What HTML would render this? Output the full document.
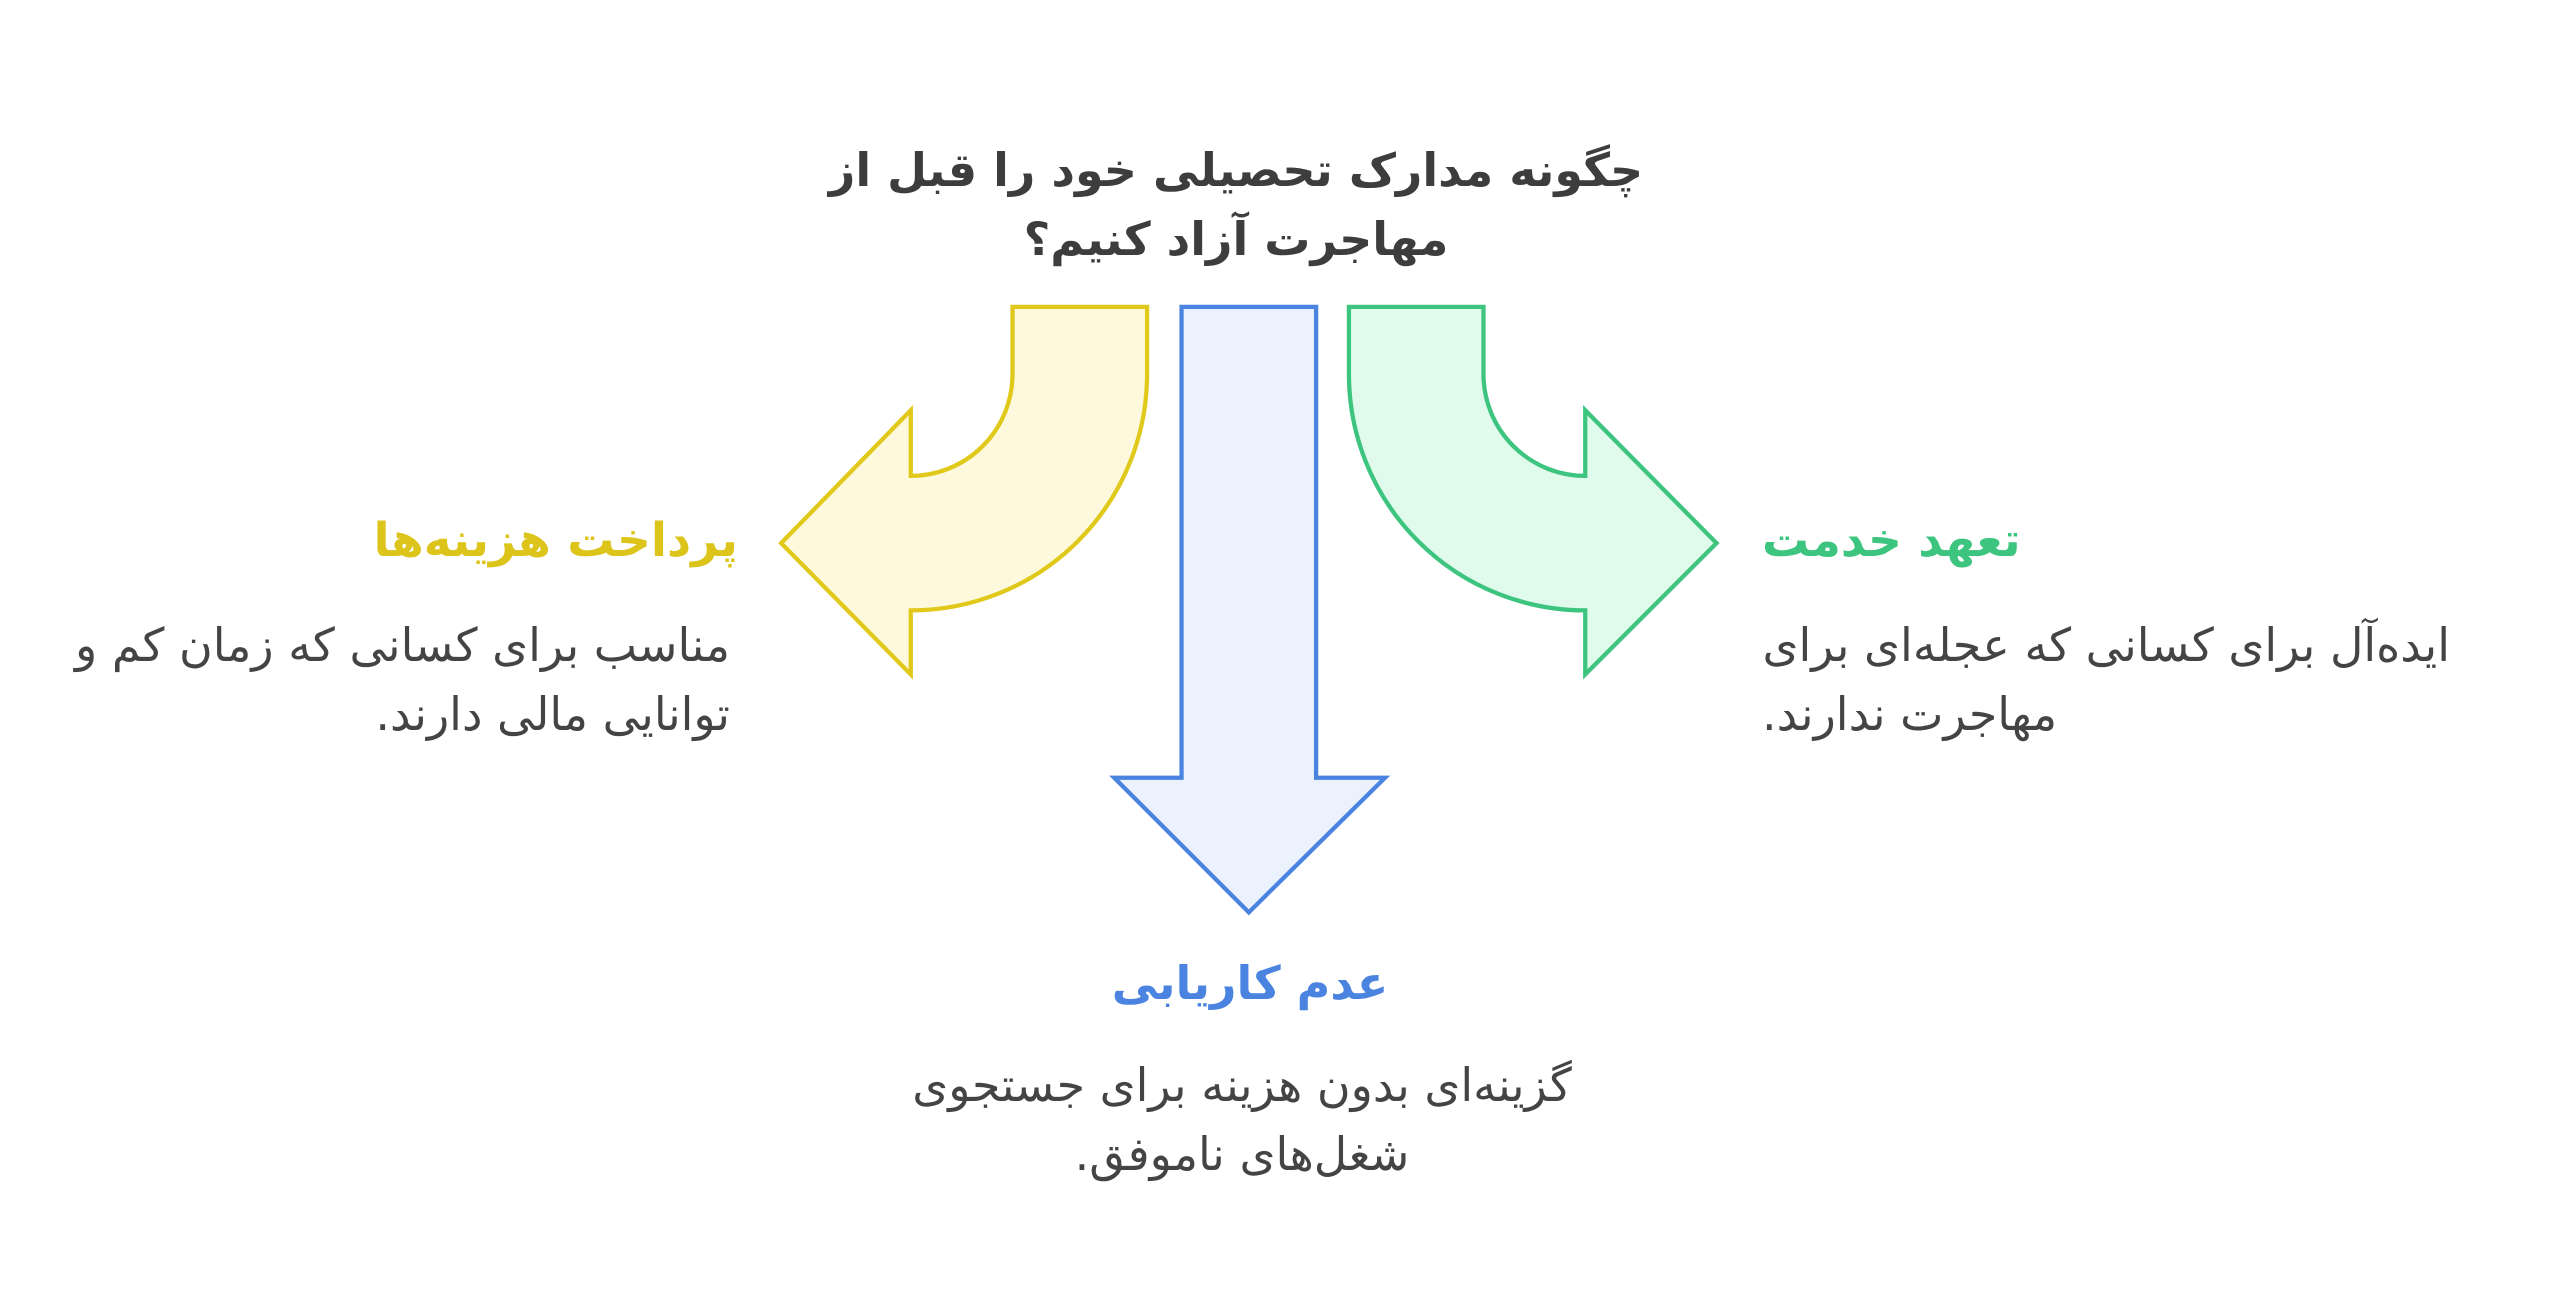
<!DOCTYPE html>
<html><head><meta charset="utf-8"><style>
html,body{margin:0;padding:0;background:#fff;}
body{width:2560px;height:1316px;position:relative;overflow:hidden;font-family:"DejaVu Sans","Liberation Sans",sans-serif;}
.t{position:absolute;white-space:nowrap;direction:rtl;line-height:1;}
.b{font-weight:bold;}
</style></head><body>
<svg width="2560" height="1316" viewBox="0 0 1560 802" preserveAspectRatio="none" style="position:absolute;left:0;top:0">
<path d="M617,187 L699,187 L699,228 A144,144 0 0 1 555,372 L555,411 L476,331 L555,250 L555,290 A62,62 0 0 0 617,228 Z" fill="#fef9dc" stroke="#e0c91a" stroke-width="2.6" stroke-linejoin="miter"/>
<path d="M904,187 L822,187 L822,228 A144,144 0 0 0 966,372 L966,411 L1046,331 L966,250 L966,290 A62,62 0 0 1 904,228 Z" fill="#e0fbec" stroke="#3dc47e" stroke-width="2.6"/>
<path d="M720,187 L802,187 L802,474 L844,474 L761,556 L679,474 L720,474 Z" fill="#ebf2fd" stroke="#4a84e0" stroke-width="2.6"/>
</svg>
<div class="t b" style="left:0;width:2472px;text-align:center;top:147px;font-size:46px;color:#3d3d3d">چگونه مدارک تحصیلی خود را قبل از</div>
<div class="t b" style="left:0;width:2472px;text-align:center;top:216px;font-size:46px;color:#3d3d3d">مهاجرت آزاد کنیم؟</div>

<div class="t b" style="right:1822px;top:517px;font-size:47px;color:#dcc41a">پرداخت هزینه‌ها</div>
<div class="t" style="right:1830px;top:622px;font-size:46px;color:#444">مناسب برای کسانی که زمان کم و</div>
<div class="t" style="right:1830px;top:691px;font-size:46px;color:#444">توانایی مالی دارند.</div>

<div class="t b" style="left:1762px;top:517px;font-size:47px;color:#3dc47e">تعهد خدمت</div>
<div class="t" style="left:1762px;width:688px;text-align:right;top:622px;font-size:46px;color:#444">ایده‌آل برای کسانی که عجله‌ای برای</div>
<div class="t" style="left:1762px;width:688px;text-align:left;top:691px;font-size:46px;color:#444">مهاجرت ندارند.</div>

<div class="t b" style="left:0;width:2500px;text-align:center;top:960px;font-size:46px;color:#4a84e0">عدم کاریابی</div>
<div class="t" style="left:0;width:2484px;text-align:center;top:1062px;font-size:46px;color:#444">گزینه‌ای بدون هزینه برای جستجوی</div>
<div class="t" style="left:0;width:2484px;text-align:center;top:1131px;font-size:46px;color:#444">شغل‌های ناموفق.</div>
</body></html>
